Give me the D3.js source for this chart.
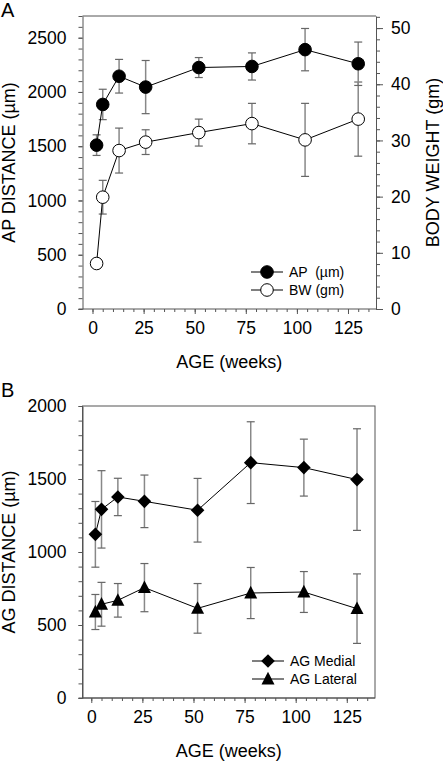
<!DOCTYPE html>
<html><head><meta charset="utf-8">
<script src="https://cdn.jsdelivr.net/npm/d3@7"></script>
<style>body{margin:0;background:#fff}svg{display:block;font-family:"Liberation Sans",Arial,sans-serif}text{white-space:pre}</style>
</head><body><svg id="c" width="443" height="763"></svg>
<script>
const ages = [2, 5, 13, 26, 52, 78, 104, 130];
const apMean = [1510, 1885, 2145, 2045, 2225, 2235, 2390, 2260];
const apErr  = [95, 140, 155, 245, 92, 125, 195, 200];
const bwMean = [8.1, 19.9, 28.2, 29.7, 31.4, 33.0, 30.1, 33.8];
const bwErr  = [0.4, 3.0, 4.0, 2.2, 2.4, 3.6, 6.5, 6.6];
const medMean = [1121, 1292, 1377, 1347, 1286, 1612, 1578, 1496];
const medErr  = [225, 265, 128, 180, 218, 280, 195, 348];
const latMean = [589, 642, 669, 756, 614, 719, 726, 612];
const latErr  = [120, 150, 115, 165, 170, 175, 140, 238];
const xTicks = [0, 25, 50, 75, 100, 125];
const apTicks = [0, 500, 1000, 1500, 2000, 2500];
const bwTicks = [0, 10, 20, 30, 40, 50];
const agTicks = [0, 500, 1000, 1500, 2000];

const svg = d3.select("#c");
const axisCol = "#555", errCol = "#888";
const tickFont = "17.5px", titleFont = "18px";
const fmt = d3.format("d");

function minorTicks(lo, hi, step){ const a=[]; for(let v=lo; v<=hi+1e-9; v+=step) a.push(+v.toFixed(4)); return a; }

function styleAxis(g){
  g.selectAll(".domain").attr("stroke", axisCol);
  g.selectAll(".tick line").attr("stroke", axisCol);
  g.selectAll("text").attr("font-size", tickFont).attr("fill", "#000").attr("font-family", '"Liberation Sans",Arial,sans-serif');
}

function xAxisDraw(x, yPos, xl, xr){
  svg.append("g").attr("transform", `translate(0,${yPos})`)
    .call(d3.axisBottom(x).tickValues(minorTicks(0,135,5)).tickSize(3).tickFormat("").tickSizeOuter(0))
    .call(g=>{g.select(".domain").remove(); g.selectAll(".tick line").attr("stroke", axisCol);});
  svg.append("g").attr("transform", `translate(0,${yPos})`)
    .call(d3.axisBottom(x).tickValues(xTicks).tickFormat(fmt).tickSize(5).tickPadding(8).tickSizeOuter(0))
    .call(styleAxis).call(g=>g.select(".domain").remove());
  svg.append("line").attr("x1", xl).attr("x2", xr).attr("y1", yPos).attr("y2", yPos).attr("stroke", axisCol);
}

function errorBars(x, y, means, errs){
  const g = svg.append("g");
  ages.forEach((a,i)=>{
    const cx = x(a), y1 = y(means[i]-errs[i]), y2 = y(means[i]+errs[i]);
    g.append("line").attr("x1",cx).attr("x2",cx).attr("y1",y1).attr("y2",y2).attr("stroke",errCol).attr("stroke-width",1.5);
    [y1,y2].forEach(yy=>g.append("line").attr("x1",cx-4).attr("x2",cx+4).attr("y1",yy).attr("y2",yy).attr("stroke","#666").attr("stroke-width",1.2));
  });
}

function series(x, y, means, shape, fill){
  const line = d3.line().x((d,i)=>x(ages[i])).y(d=>y(d));
  svg.append("path").datum(means).attr("d", line).attr("fill","none").attr("stroke","#000").attr("stroke-width",1);
  means.forEach((m,i)=>marker(x(ages[i]), y(m), shape, fill));
}

function marker(cx, cy, shape, fill){
  if(shape==="circle"){
    svg.append("circle").attr("cx",cx).attr("cy",cy).attr("r",6.3).attr("fill",fill).attr("stroke","#000").attr("stroke-width",1);
  } else if(shape==="diamond"){
    const s=6.8;
    svg.append("path").attr("d",`M${cx},${cy-s}L${cx+s},${cy}L${cx},${cy+s}L${cx-s},${cy}Z`).attr("fill",fill);
  } else {
    const w=6.5, h=12;
    svg.append("path").attr("d",`M${cx},${cy-h*0.6}L${cx+w},${cy+h*0.45}L${cx-w},${cy+h*0.45}Z`).attr("fill",fill);
  }
}

function legend(items, xL, yTop){
  items.forEach((it,i)=>{
    const yy = yTop + i*18;
    svg.append("line").attr("x1",xL).attr("x2",xL+32).attr("y1",yy).attr("y2",yy).attr("stroke","#000");
    marker(xL+16, yy, it.shape, it.fill);
    svg.append("text").attr("x",xL+38).attr("y",yy).attr("dy","0.36em").attr("font-size","14px").attr("xml:space","preserve").text(it.label);
  });
}

// ---------- Panel A ----------
{
  const L=82.5, R=376, T=16, B=309;
  const x = d3.scaleLinear().domain([-4.9,138.7]).range([L,R]);
  const yL = d3.scaleLinear().domain([0,2700]).range([B,T]);
  const yR = d3.scaleLinear().domain([0,52.15]).range([B,T]);
  svg.append("line").attr("x1",L).attr("x2",R).attr("y1",T).attr("y2",T).attr("stroke",axisCol);
  svg.append("g").attr("transform",`translate(${L},0)`)
    .call(d3.axisLeft(yL).tickValues(minorTicks(0,2700,100)).tickSize(4).tickFormat("").tickSizeOuter(0))
    .call(g=>{g.select(".domain").attr("stroke",axisCol); g.selectAll(".tick line").attr("stroke",axisCol);});
  svg.append("g").attr("transform",`translate(${L},0)`)
    .call(d3.axisLeft(yL).tickValues(apTicks).tickFormat(fmt).tickSize(4).tickPadding(12).tickSizeOuter(0))
    .call(styleAxis).call(g=>g.select(".domain").remove());
  svg.append("g").attr("transform",`translate(${R},0)`)
    .call(d3.axisRight(yR).tickValues(minorTicks(0,52,2)).tickSize(4).tickFormat("").tickSizeOuter(0))
    .call(g=>{g.select(".domain").attr("stroke",axisCol); g.selectAll(".tick line").attr("stroke",axisCol);});
  svg.append("g").attr("transform",`translate(${R},0)`)
    .call(d3.axisRight(yR).tickValues(bwTicks).tickFormat(fmt).tickSize(7).tickPadding(8).tickSizeOuter(0))
    .call(styleAxis).call(g=>g.select(".domain").remove());
  xAxisDraw(x, B, L-4, R);
  errorBars(x, yR, bwMean, bwErr);
  errorBars(x, yL, apMean, apErr);
  series(x, yR, bwMean, "circle", "#fff");
  series(x, yL, apMean, "circle", "#000");
  legend([{label:"AP  (µm)",shape:"circle",fill:"#000"},{label:"BW (gm)",shape:"circle",fill:"#fff"}], 251, 272);
  svg.append("text").attr("transform",`translate(9,${(T+B)/2}) rotate(-90)`).attr("text-anchor","middle").attr("dy","0.35em").attr("font-size",titleFont).text("AP DISTANCE (µm)");
  svg.append("text").attr("transform",`translate(433,${(T+B)/2}) rotate(-90)`).attr("text-anchor","middle").attr("dy","0.35em").attr("font-size",titleFont).text("BODY WEIGHT (gm)");
  svg.append("text").attr("x",(L+R)/2).attr("y",368).attr("text-anchor","middle").attr("font-size",titleFont).text("AGE (weeks)");
  svg.append("text").attr("x",1).attr("y",17).attr("font-size","20px").text("A");
}

// ---------- Panel B ----------
{
  const L=82.5, R=375, T=406, B=698;
  const x = d3.scaleLinear().domain([-4.3,138.8]).range([L,R]);
  const y = d3.scaleLinear().domain([0,2000]).range([B,T]);
  svg.append("rect").attr("x",L).attr("y",T).attr("width",R-L).attr("height",B-T).attr("fill","none").attr("stroke",axisCol);
  svg.append("g").attr("transform",`translate(${L},0)`)
    .call(d3.axisLeft(y).tickValues(minorTicks(0,2000,100)).tickSize(4).tickFormat("").tickSizeOuter(0))
    .call(g=>{g.select(".domain").attr("stroke",axisCol); g.selectAll(".tick line").attr("stroke",axisCol);});
  svg.append("g").attr("transform",`translate(${L},0)`)
    .call(d3.axisLeft(y).tickValues(agTicks).tickFormat(fmt).tickSize(4).tickPadding(12).tickSizeOuter(0))
    .call(styleAxis).call(g=>g.select(".domain").remove());
  xAxisDraw(x, B, L-4, R);
  errorBars(x, y, medMean, medErr);
  errorBars(x, y, latMean, latErr);
  series(x, y, medMean, "diamond", "#000");
  series(x, y, latMean, "triangle", "#000");
  legend([{label:"AG Medial",shape:"diamond",fill:"#000"},{label:"AG Lateral",shape:"triangle",fill:"#000"}], 252, 661);
  svg.append("text").attr("transform",`translate(9,${(T+B)/2}) rotate(-90)`).attr("text-anchor","middle").attr("dy","0.35em").attr("font-size",titleFont).text("AG DISTANCE (µm)");
  svg.append("text").attr("x",(L+R)/2).attr("y",757).attr("text-anchor","middle").attr("font-size",titleFont).text("AGE (weeks)");
  svg.append("text").attr("x",1).attr("y",397).attr("font-size","20px").text("B");
}
</script></body></html>
